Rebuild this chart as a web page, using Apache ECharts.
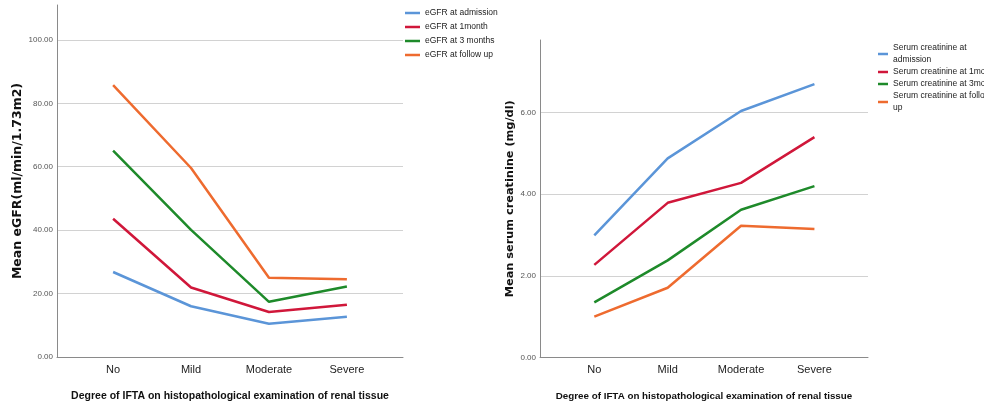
<!DOCTYPE html>
<html><head><meta charset="utf-8">
<script src="https://cdn.jsdelivr.net/npm/echarts@6/dist/echarts.min.js"></script>
<style>html,body{margin:0;padding:0;background:#fff}#c{width:984px;height:408px}</style>
</head><body><div id="c"></div>
<script>
const categories = ['No', 'Mild', 'Moderate', 'Severe'];
const egfrNames = ['eGFR at admission', 'eGFR at 1month', 'eGFR at 3 months', 'eGFR at follow up'];
const egfrAdmission = [26.8, 16.0, 10.5, 12.7];
const egfr1Month = [43.6, 21.9, 14.2, 16.5];
const egfr3Months = [65.1, 40.1, 17.4, 22.2];
const egfrFollowUp = [85.7, 59.6, 25.0, 24.5];
const creatNames = ['Serum creatinine at admission', 'Serum creatinine at 1month', 'Serum creatinine at 3months', 'Serum creatinine at follow up'];
const creatLegendLabels = ['Serum creatinine at\nadmission', 'Serum creatinine at 1month', 'Serum creatinine at 3months', 'Serum creatinine at follow\nup'];
const creatAdmission = [2.99, 4.88, 6.04, 6.70];
const creat1Month = [2.27, 3.79, 4.28, 5.40];
const creat3Months = [1.35, 2.38, 3.62, 4.20];
const creatFollowUp = [1.00, 1.71, 3.23, 3.15];
const egfrTicks = [0, 20, 40, 60, 80, 100];
const creatTicks = [0, 2, 4, 6];
const xTitle = 'Degree of IFTA on histopathological examination of renal tissue';

const colors = ['#5B95D8', '#D0173A', '#1E8A2A', '#EE6B2F'];
const narrow = '"Liberation Sans Narrow", "Liberation Sans", Arial, sans-serif';
const toPts = arr => arr.map((v, i) => [i, v]);

function xAxis(gridIndex, min, max, titleSize) {
  return {
    type: 'value', gridIndex, min, max,
    axisLine: { show: true, onZero: false, lineStyle: { color: '#8a8a8a', width: 1 } },
    axisTick: { show: false },
    splitLine: { show: false },
    axisLabel: {
      customValues: [0, 1, 2, 3],
      formatter: v => categories[Math.round(v)],
      fontFamily: narrow, fontSize: 11, color: '#222', margin: 7
    },
    name: xTitle, nameLocation: 'middle', nameGap: 34,
    nameTextStyle: { fontFamily: narrow, fontWeight: 'bold', fontSize: titleSize, color: '#111' }
  };
}
function yAxis(gridIndex, max, interval, ticks, name, nameGap, nameSize) {
  return {
    type: 'value', gridIndex, min: 0, max, interval,
    axisLine: { show: true, onZero: false, lineStyle: { color: '#8a8a8a', width: 1 } },
    axisTick: { show: false },
    splitLine: { show: true, showMaxLine: false, showMinLine: false, lineStyle: { color: '#d2d2d2', width: 1 } },
    axisLabel: {
      customValues: ticks,
      formatter: v => v.toFixed(2),
      fontFamily: narrow, fontSize: 8, color: '#555', margin: 4
    },
    name, nameLocation: 'middle', nameGap,
    nameTextStyle: { fontFamily: '"DejaVu Sans", sans-serif', fontWeight: 'bold', fontSize: nameSize, color: '#111' }
  };
}
function line(name, data, xi, color) {
  return { type: 'line', name, data: toPts(data), xAxisIndex: xi, yAxisIndex: xi,
    showSymbol: false, symbol: 'none', lineStyle: { color, width: 2.5 }, itemStyle: { color },
    animation: false, silent: true };
}

const chart = echarts.init(document.getElementById('c'), null, { renderer: 'canvas' });
chart.setOption({
  backgroundColor: '#fff',
  animation: false,
  grid: [
    { left: 57, top: 5, right: 581, bottom: 51 },
    { left: 540, top: 40, right: 116, bottom: 50.5 }
  ],
  xAxis: [xAxis(0, -0.72, 3.72, 10.5), xAxis(1, -0.74, 3.73, 9.8)],
  yAxis: [
    yAxis(0, 111, 20, egfrTicks, 'Mean eGFR(ml/min/1.73m2)', 33, 12.5),
    yAxis(1, 7.78, 2, creatTicks, 'Mean serum creatinine (mg/dl)', 24, 11.3)
  ],
  legend: [
    { data: egfrNames, orient: 'vertical', left: 405, top: 6, itemGap: 0, padding: 0,
      itemWidth: 15, itemHeight: 2.5, icon: 'rect', itemStyle: { borderWidth: 0 },
      textStyle: { fontFamily: narrow, fontSize: 8.5, color: '#222', lineHeight: 14 }, selectedMode: false },
    { data: creatNames, orient: 'vertical', left: 878, top: 42, itemGap: 0, padding: 0,
      itemWidth: 10, itemHeight: 2.5, icon: 'rect', itemStyle: { borderWidth: 0 },
      formatter: n => creatLegendLabels[creatNames.indexOf(n)],
      textStyle: { fontFamily: narrow, fontSize: 8.5, color: '#222', lineHeight: 12 }, selectedMode: false }
  ],
  series: [
    line(egfrNames[0], egfrAdmission, 0, colors[0]),
    line(egfrNames[1], egfr1Month, 0, colors[1]),
    line(egfrNames[2], egfr3Months, 0, colors[2]),
    line(egfrNames[3], egfrFollowUp, 0, colors[3]),
    line(creatNames[0], creatAdmission, 1, colors[0]),
    line(creatNames[1], creat1Month, 1, colors[1]),
    line(creatNames[2], creat3Months, 1, colors[2]),
    line(creatNames[3], creatFollowUp, 1, colors[3])
  ]
});
</script></body></html>
